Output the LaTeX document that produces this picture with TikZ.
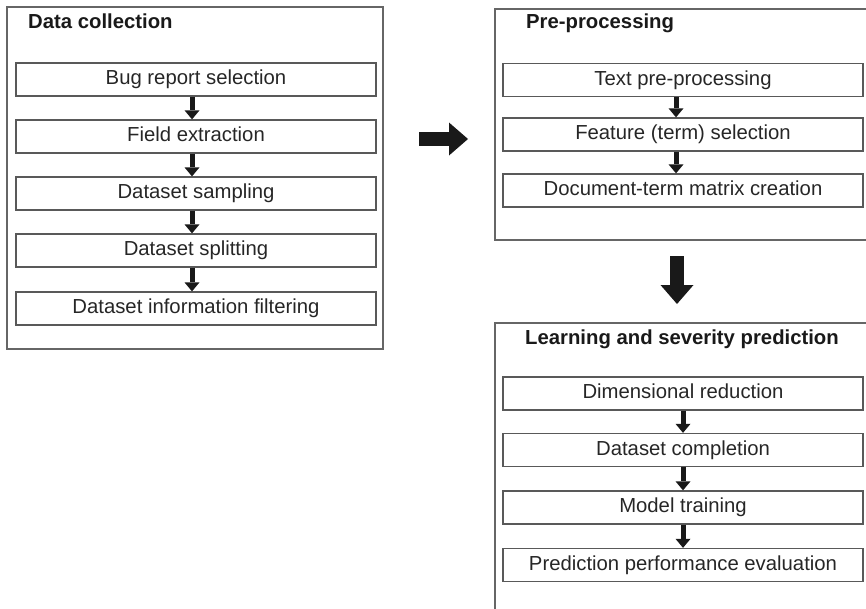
\documentclass[tikz,border=0pt]{standalone}
\usepackage{fontspec}
\setmainfont{Liberation Sans}
\usetikzlibrary{arrows.meta}

\tikzstyle{panel}=[rectangle, draw=black!60, line width=1.3pt, inner sep=0pt]
\tikzstyle{stage}=[rectangle, draw=black!65, line width=1.3pt, minimum width=360pt, minimum height=33pt, inner sep=0pt, text height=14.6pt, text depth=4.5pt, font=\fontsize{20.3}{24}\selectfont, text=black!85]
\tikzstyle{title}=[anchor=base west, inner sep=0pt, font=\fontsize{20.3}{24}\selectfont\bfseries, text=black!90]
\tikzstyle{stepto}=[-{Triangle[width=15pt,length=9pt,line width=0pt]}, line width=5pt, black!90]
\tikzstyle{bigto}=[-{Triangle[width=33pt,length=19pt,line width=0pt]}, line width=14pt, black!90]

\begin{document}
\begin{tikzpicture}[x=1pt, y=-1pt]
\useasboundingbox (0,0) rectangle (866,608);
% panels
\node[panel, minimum width=376pt, minimum height=342pt] (coll) at (195,178) {};
\node[panel, minimum width=380pt, minimum height=231pt] (pre)  at (685,124.5) {};
\node[panel, minimum width=380pt, minimum height=297pt] (learn) at (685,471.5) {};
\node[title] at (28,28) {Data collection};
\node[title] at (526,28) {Pre-processing};
\node[title, anchor=base] at (682,344) {Learning and severity prediction};
% data collection
\node[stage] (c1) at (196,79.5)  {Bug report selection};
\node[stage] (c2) at (196,136.5) {Field extraction};
\node[stage] (c3) at (196,193.5) {Dataset sampling};
\node[stage] (c4) at (196,250.5) {Dataset splitting};
\node[stage] (c5) at (196,308.5) {Dataset information filtering};
\foreach \a/\b in {c1/c2, c2/c3, c3/c4, c4/c5}
  \draw[stepto] ([xshift=-4pt]\a.south) -- ([xshift=-4pt]\b.north);
% pre-processing
\node[stage] (p1) at (683,80)    {Text pre-processing};
\node[stage] (p2) at (683,134.5) {Feature (term) selection};
\node[stage] (p3) at (683,190.5) {Document-term matrix creation};
\foreach \a/\b in {p1/p2, p2/p3}
  \draw[stepto] ([xshift=-7pt]\a.south) -- ([xshift=-7pt]\b.north);
% learning
\node[stage] (l1) at (683,393.5) {Dimensional reduction};
\node[stage] (l2) at (683,450)   {Dataset completion};
\node[stage] (l3) at (683,507.5) {Model training};
\node[stage] (l4) at (683,565)   {Prediction performance evaluation};
\foreach \a/\b in {l1/l2, l2/l3, l3/l4}
  \draw[stepto] (\a.south) -- (\b.north);
% between panels
\coordinate (r1) at (419,139);
\coordinate (r2) at (468,139);
\coordinate (d1) at (677,256);
\coordinate (d2) at (677,304);
\draw[bigto] (r1) -- (r2);
\draw[bigto] (d1) -- (d2);
\end{tikzpicture}
\end{document}
